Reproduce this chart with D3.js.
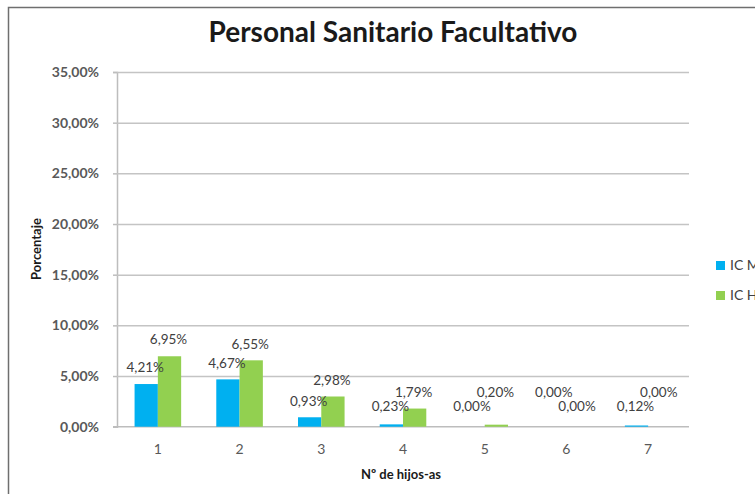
<!DOCTYPE html>
<html>
<head>
<meta charset="utf-8">
<script src="https://cdn.jsdelivr.net/npm/d3@7"></script>
<style>
  body { margin: 0; background: #fff; }
  svg { display: block; font-family: Lato, "Open Sans", sans-serif; }
</style>
</head>
<body>
<svg id="chart"></svg>
<script>
// data
const categories = ["1", "2", "3", "4", "5", "6", "7"];
const seriesNames = ["IC Mujeres", "IC Hombres"];
const icMujeres = [4.21, 4.67, 0.93, 0.23, 0.00, 0.00, 0.12];
const icHombres = [6.95, 6.55, 2.98, 1.79, 0.20, 0.00, 0.00];
const yTicks = [0, 5, 10, 15, 20, 25, 30, 35];

// which label was pushed up to avoid overlap (0 = mujeres, 1 = hombres)
const raisedLabel = {"5": 1, "6": 0, "7": 1};

function drawChart(){
  const width = 755, height = 494;
  const plot = {left: 117, right: 689, top: 72, bottom: 426.7};
  const colors = ["#00B0F0", "#92D050"];

  const svg = d3.select("#chart")
    .attr("width", width)
    .attr("height", height);

  // chart frame (cut off on right and bottom in the source)
  svg.append("rect")
    .attr("x", 8.5).attr("y", 7.5)
    .attr("width", 900).attr("height", 700)
    .attr("fill", "none")
    .attr("stroke", "#6f6f6f")
    .attr("stroke-width", 1.5);

  const y = d3.scaleLinear().domain([0, 35]).range([plot.bottom, plot.top]);
  const x = d3.scaleBand().domain(categories).range([plot.left, plot.right]);
  const gap = x.bandwidth() * 0.215;
  const xs = d3.scaleBand().domain([0, 1]).range([gap, x.bandwidth() - gap]);

  const fmt = v => d3.format(".2f")(v).replace(".", ",") + "%";

  // gridlines + y axis
  const yAxis = g => g
    .attr("transform", `translate(${plot.left},0)`)
    .call(d3.axisLeft(y).tickValues(yTicks).tickSize(4).tickPadding(14).tickFormat(fmt))
    .call(g => g.select(".domain").attr("stroke", "#bdbdbd").attr("stroke-width", 1.5))
    .call(g => g.selectAll(".tick line").attr("stroke", "#bdbdbd").attr("stroke-width", 1.5))
    .call(g => g.selectAll(".tick").filter(d => d > 0).append("line")
        .attr("x2", plot.right - plot.left)
        .attr("stroke", "#c4c4c4")
        .attr("stroke-width", 1.5))
    .call(g => g.selectAll(".tick text")
        .attr("fill", "#595959")
        .attr("font-size", "14px")
        .attr("font-weight", "bold")
        .attr("font-family", "Lato, sans-serif"));

  svg.append("g").call(yAxis);

  // x axis
  const xAxis = g => g
    .attr("transform", `translate(0,${plot.bottom})`)
    .call(d3.axisBottom(x).tickSize(0).tickPadding(17))
    .call(g => g.select(".domain").attr("stroke", "#bdbdbd").attr("stroke-width", 1.5)
        .attr("d", `M${plot.left - 4},0H${plot.right}`))
    .call(g => g.selectAll(".tick text")
        .attr("fill", "#595959")
        .attr("font-size", "14px")
        .attr("font-family", "Lato, sans-serif"));

  svg.append("g").call(xAxis);

  // bars
  const rows = categories.map((c, i) => ({cat: c, vals: [icMujeres[i], icHombres[i]]}));

  const groups = svg.append("g")
    .selectAll("g")
    .data(rows)
    .join("g")
    .attr("transform", d => `translate(${x(d.cat)},0)`);

  groups.selectAll("rect")
    .data(d => d.vals.map((v, s) => ({v, s})))
    .join("rect")
    .attr("x", d => xs(d.s))
    .attr("y", d => y(d.v))
    .attr("width", xs.bandwidth())
    .attr("height", d => y(0) - y(d.v))
    .attr("fill", d => colors[d.s]);

  // data labels
  groups.selectAll("text")
    .data(d => d.vals.map((v, s) => ({v, s, cat: d.cat})))
    .join("text")
    .attr("x", d => xs(d.s) + xs.bandwidth() / 2 - 1)
    .attr("y", d => {
      let ly = Math.min(y(d.v) - 16.5, y(0) - 20);
      if (raisedLabel[d.cat] === d.s) ly -= 14;
      return ly;
    })
    .attr("dy", "0.35em")
    .attr("text-anchor", "middle")
    .attr("font-size", "13.5px")
    .attr("fill", "#404040")
    .text(d => fmt(d.v));

  // titles
  svg.append("text")
    .attr("x", 393).attr("y", 42)
    .attr("text-anchor", "middle")
    .attr("font-size", "28px")
    .attr("font-weight", "bold")
    .attr("fill", "#1a1a1a")
    .text("Personal Sanitario Facultativo");

  svg.append("text")
    .attr("transform", `translate(41,249) rotate(-90)`)
    .attr("text-anchor", "middle")
    .attr("font-size", "13px")
    .attr("font-weight", "bold")
    .attr("fill", "#1a1a1a")
    .text("Porcentaje");

  svg.append("text")
    .attr("x", 401).attr("y", 479)
    .attr("text-anchor", "middle")
    .attr("font-size", "13px")
    .attr("font-weight", "bold")
    .attr("fill", "#1a1a1a")
    .text("Nº de hijos-as");

  // legend (its right part falls outside the picture, as in the source)
  const legend = svg.append("g")
    .selectAll("g")
    .data(seriesNames)
    .join("g")
    .attr("transform", (d, i) => `translate(716,${261 + i * 30})`);

  legend.append("rect")
    .attr("width", 9).attr("height", 9)
    .attr("fill", (d, i) => colors[i]);

  legend.append("text")
    .attr("x", 14).attr("y", 4.5)
    .attr("dy", "0.35em")
    .attr("font-size", "14px")
    .attr("fill", "#404040")
    .text(d => d);
}

drawChart();
</script>
</body>
</html>
